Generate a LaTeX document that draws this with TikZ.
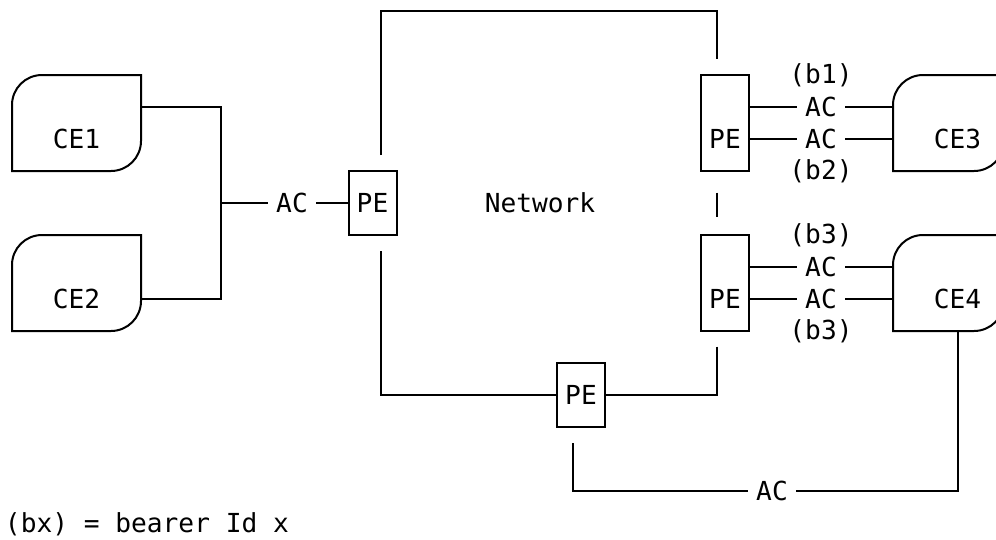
\documentclass[tikz,border=0pt]{standalone}
\usepackage{fontspec}
\setmainfont{DejaVu Sans Mono}
\usetikzlibrary{calc}

% frame of a CE: top left and bottom right corners rounded
\newcommand\ceframe[2]{%
  \draw (#1.south west) -- ($(#1.north west)+(0,30)$)
    arc[start angle=180,end angle=270,radius=30] -- ($(#1.north east)+(-#2,0)$)
    -- ($(#1.south east)+(-#2,-30)$) arc[start angle=0,end angle=90,radius=30] -- cycle;}

\begin{document}
\begin{tikzpicture}[x=1pt,y=-1pt,line width=2pt,
  every node/.style={inner sep=0pt,outer sep=0pt,font=\fontsize{26.2}{30}\selectfont},
  cebox/.style={minimum width=129pt,minimum height=96pt},
  pebox/.style={draw,minimum width=48pt,minimum height=64pt},
  pehigh/.style={pebox,minimum height=96pt},
  lowtext/.style={yshift=-16pt},
  acbox/.style={minimum width=48pt,minimum height=24pt}]
\path[use as bounding box] (0,0) rectangle (996,539);
\path[fill=white] (0,0) rectangle (996,539);
% customer edges
\node[cebox,label={[lowtext]center:CE1}] (ce1) at (76.5,123) {};
\node[cebox,label={[lowtext]center:CE2}] (ce2) at (76.5,283) {};
\node[cebox,label={[lowtext]center:CE3}] (ce3) at (957.5,123) {};
\node[cebox,label={[lowtext]center:CE4}] (ce4) at (957.5,283) {};
\ceframe{ce1}{0}
\ceframe{ce2}{0}
\ceframe{ce3}{18}
\ceframe{ce4}{18}
% provider edges
\node[pebox] (pel) at (372.5,203) {PE};
\node[pehigh,label={[lowtext]center:PE}] (pe1) at (725,122.5) {};
\node[pehigh,label={[lowtext]center:PE}] (pe2) at (725,282.5) {};
\node[pebox] (peb) at (581,395) {PE};
\node (net) at (540,203) {Network};
% attachment circuits
\coordinate (jl) at (221,203);
\node[acbox] (acl) at (292,203) {AC};
\node[acbox] (ac1) at (821,107) {AC};
\node[acbox] (ac2) at (821,139) {AC};
\node[acbox] (ac3) at (821,267) {AC};
\node[acbox] (ac4) at (821,299) {AC};
\node[acbox] (acb) at (772,491) {AC};
\node (b1) at (821,75) {(b1)};
\node (b2) at (821,171) {(b2)};
\node (b3a) at (821,235) {(b3)};
\node (b3b) at (821,331) {(b3)};
\node[anchor=west] (legend) at (5,524) {(bx) = bearer Id x};
% connections
\coordinate (nettop) at (549,11);
\draw ($(ce1.east)+(0,-16)$) -| (jl);
\draw ($(ce2.east)+(0,16)$) -| (jl);
\draw (jl) -- (acl) -- (pel);
\draw ($(pel.north)+(8,-16)$) |- (nettop) -| ($(pe1.north)+(-8,-16)$);
\draw ($(pe1.south)+(-8,22)$) -- ($(pe2.north)+(-8,-18)$);
\draw ($(pel.south)+(8,16)$) |- (peb);
\draw ($(pe2.south)+(-8,16)$) |- (peb);
\draw (ac1 -| pe1.east) -- (ac1) -- (ac1 -| ce3.west);
\draw (ac2 -| pe1.east) -- (ac2) -- (ac2 -| ce3.west);
\draw (ac3 -| pe2.east) -- (ac3) -- (ac3 -| ce4.west);
\draw (ac4 -| pe2.east) -- (ac4) -- (ac4 -| ce4.west);
\draw ($(peb.south)+(-8,16)$) |- (acb) -| (ce4);
\end{tikzpicture}
\end{document}
